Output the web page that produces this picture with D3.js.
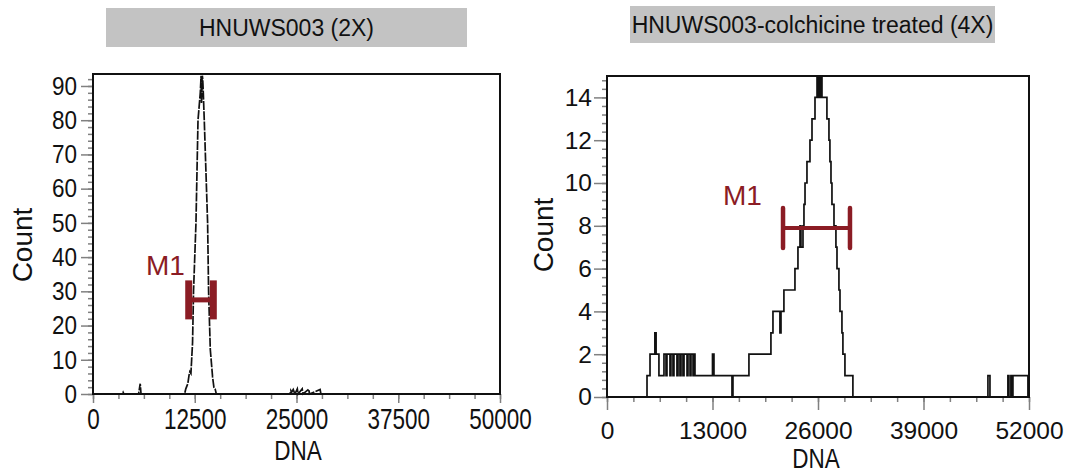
<!DOCTYPE html>
<html>
<head>
<meta charset="utf-8">
<script src="https://cdn.jsdelivr.net/npm/d3@7"></script>
<style>
  body { margin: 0; background: #fff; }
  svg { display: block; font-family: "Liberation Sans", Arial, sans-serif; }
</style>
</head>
<body>
<div id="drawing"></div>
<script>
const width = 1070;
const height = 473;

// ---- left panel: HNUWS003 (2X) ----
const leftTitle = "HNUWS003 (2X)";
const leftXTicks = [0, 12500, 25000, 37500, 50000];
const leftYTicks = [0, 10, 20, 30, 40, 50, 60, 70, 80, 90];
const leftDNA = [0, 3600, 3700, 3800, 5600, 5700, 5800, 5900,
  11250, 11400, 11650, 11800, 11900, 12030, 12230, 12350, 12650, 12900, 13180, 13280, 13330,
  13430, 13480, 13550, 13670, 14080, 14200, 14410, 14690, 14850, 15000, 15150,
  24200, 24300, 24400, 24600, 24800, 25100, 25200, 25700, 25800, 26500, 26600, 27900, 28000, 50000];
const leftCount = [0, 0, 0.5, 0, 0, 1.5, 3, 0,
  0, 1.5, 3, 5.5, 6.5, 6, 15, 30, 50, 80, 88, 93, 85,
  93, 92, 88, 80, 50, 30, 13, 5, 2, 1.5, 0,
  0, 1, 0.5, 1.3, 0, 1.5, 0, 1.5, 0, 1.4, 0, 1.3, 0, 0];
const leftGate = [11760, 14780];
const leftGateLevel = 27.5;

// ---- right panel: colchicine treated (4X) ----
const rightTitle = "HNUWS003-colchicine treated (4X)";
const rightXTicks = [0, 13000, 26000, 39000, 52000];
const rightYTicks = [0, 2, 4, 6, 8, 10, 12, 14];
const rightDNA = [0,
  4930, 5300, 5900, 6050, 6400,
  7020, 7270, 7390, 7760, 7880, 8130, 8250, 8620, 8750, 8990, 9120, 9360, 9490, 9860,
  9980, 10230, 10350, 10600, 10720, 10840,
  13000, 13180, 15400, 15520, 17490,
  20200, 20450, 21310, 21440, 21800, 23160, 23530, 23780, 23900, 24150, 24270, 24400,
  24640, 25010, 25260, 25630, 25880, 26000, 26120, 26250, 26370, 26490,
  27100, 27350, 27470, 27600, 27720, 27970, 28210, 28340, 28580, 28710, 28950, 29070, 29320, 30300,
  46940, 47190, 49400, 49530, 49770, 49900, 50020, 51870, 52000];
const rightCount = [0,
  1, 2, 3, 2, 1,
  2, 1, 2, 1, 2, 1, 2, 1, 2, 1, 2, 1, 2, 1,
  2, 1, 2, 1, 2, 1,
  2, 1, 0, 1, 2,
  3, 4, 3, 4, 5, 6, 7, 8, 7, 8, 9, 10,
  11, 12, 13, 14, 15, 14, 15, 14, 15, 14,
  13, 12, 11, 10, 9, 8, 7, 6, 5, 4, 3, 2, 1, 0,
  1, 0, 1, 0, 1, 0, 1, 0, 0];
const rightGate = [21690, 29940];
const rightGateLevel = 7.9;

const gateColor = "#8b1c24";
const tickColor = "#808080";

const svg = d3.select("#drawing").append("svg")
  .attr("width", width)
  .attr("height", height);

function stretchText(sel, size, sy, yOffset) {
  sel.attr("font-size", size).attr("fill", "#111");
  if (sy !== 1) {
    sel.attr("transform", `scale(1,${sy})`);
    if (yOffset !== undefined) sel.attr("y", yOffset / sy);
  }
}

function label(txt, cx, base, size, sy, rotate) {
  svg.append("text")
    .attr("transform", `translate(${cx},${base}) rotate(${rotate || 0}) scale(1,${sy})`)
    .attr("text-anchor", "middle")
    .attr("font-size", size)
    .attr("fill", "#111")
    .text(txt);
}

function panel(cfg) {
  const b = cfg.box;
  const x = d3.scaleLinear().domain(cfg.xDomain).range([b.x0, b.x1]);
  const y = d3.scaleLinear().domain(cfg.yDomain).range([b.y1, b.y0]);

  // title box
  svg.append("rect")
    .attr("x", cfg.titleBox[0]).attr("y", cfg.titleBox[1])
    .attr("width", cfg.titleBox[2]).attr("height", cfg.titleBox[3])
    .attr("fill", "#c3c3c3");
  svg.append("text")
    .attr("x", cfg.titleBox[0] + cfg.titleBox[2] / 2)
    .attr("y", cfg.titleBox[1] + cfg.titleBox[3] / 2 + 8)
    .attr("text-anchor", "middle")
    .attr("font-size", 23)
    .attr("fill", "#111")
    .text(cfg.title);

  // minor ticks
  const xMinor = d3.range(cfg.xDomain[0], cfg.xDomain[1] + 1, cfg.xStep / 4);
  const yMinor = d3.range(0, cfg.yDomain[1], cfg.yStep / 5);
  const gxm = svg.append("g").attr("transform", `translate(0,${b.y1})`)
    .call(d3.axisBottom(x).tickValues(xMinor).tickSize(5).tickFormat(""));
  const gym = svg.append("g").attr("transform", `translate(${b.x0},0)`)
    .call(d3.axisLeft(y).tickValues(yMinor).tickSize(5).tickFormat(""));

  // major ticks + labels
  const gx = svg.append("g").attr("transform", `translate(0,${b.y1})`)
    .call(d3.axisBottom(x).tickValues(cfg.xTicks).tickFormat(d3.format("d"))
      .tickSize(cfg.xTickLen).tickPadding(cfg.xPad - cfg.xTickLen));
  const gy = svg.append("g").attr("transform", `translate(${b.x0},0)`)
    .call(d3.axisLeft(y).tickValues(cfg.yTicks).tickFormat(d3.format("d"))
      .tickSize(cfg.yTickLen).tickPadding(cfg.yPad - cfg.yTickLen));

  [gxm, gym, gx, gy].forEach(g => {
    g.selectAll(".domain").remove();
    g.selectAll("line").attr("stroke", tickColor).attr("stroke-width", 1.5);
  });
  stretchText(gx.selectAll("text"), cfg.tickFont, cfg.xSy, cfg.xPad);
  stretchText(gy.selectAll("text"), cfg.tickFont, cfg.ySy);

  // frame
  svg.append("rect")
    .attr("x", b.x0).attr("y", b.y0)
    .attr("width", b.x1 - b.x0).attr("height", b.y1 - b.y0)
    .attr("fill", "none").attr("stroke", "#111").attr("stroke-width", 2);

  // histogram
  const pts = cfg.dna.map((d, i) => [d, cfg.count[i]]);
  const line = d3.line()
    .x(d => x(d[0]))
    .y(d => y(d[1]))
    .curve(cfg.curve);
  svg.append("path")
    .datum(pts)
    .attr("d", line)
    .attr("fill", "none")
    .attr("stroke", "#111")
    .attr("stroke-width", 1.7)
    .attr("stroke-dasharray", cfg.dash);

  // M1 gate
  const gy0 = y(cfg.gateLevel);
  const gate = svg.append("g").attr("stroke", gateColor);
  gate.append("line")
    .attr("x1", x(cfg.gate[0])).attr("x2", x(cfg.gate[1]))
    .attr("y1", gy0).attr("y2", gy0)
    .attr("stroke-width", cfg.gateBar);
  gate.selectAll(".end")
    .data(cfg.gate)
    .enter()
    .append("line")
      .attr("class", "end")
      .attr("x1", d => x(d)).attr("x2", d => x(d))
      .attr("y1", gy0 - cfg.gateHalf).attr("y2", gy0 + cfg.gateHalf)
      .attr("stroke-width", cfg.gateEnd)
      .attr("stroke-linecap", cfg.cap);
  svg.append("text")
    .attr("x", cfg.m1[0]).attr("y", cfg.m1[1])
    .attr("font-size", 28)
    .attr("fill", gateColor)
    .text("M1");

  label("Count", cfg.countPos[0], cfg.countPos[1], 28, 1, -90);
  label("DNA", cfg.dnaPos[0], cfg.dnaPos[1], 22.5, 1.25, 0);
}

panel({
  title: leftTitle,
  titleBox: [106, 8, 361, 39],
  box: {x0: 93, x1: 500, y0: 74, y1: 394},
  xDomain: [0, 50000], yDomain: [0, 93.5],
  xTicks: leftXTicks, yTicks: leftYTicks, xStep: 12500, yStep: 10,
  xTickLen: 9, yTickLen: 12, xPad: 14, yPad: 16,
  tickFont: 22.5, xSy: 1.32, ySy: 1.15,
  dna: leftDNA, count: leftCount, curve: d3.curveLinear, dash: "9,1.3",
  gate: leftGate, gateLevel: leftGateLevel, gateHalf: 19.5, gateBar: 5, gateEnd: 7, cap: "butt",
  m1: [146, 275],
  countPos: [32, 245], dnaPos: [298, 460]
});

panel({
  title: rightTitle,
  titleBox: [630, 6, 365, 37],
  box: {x0: 607, x1: 1029, y0: 76, y1: 397},
  xDomain: [0, 52000], yDomain: [0, 15],
  xTicks: rightXTicks, yTicks: rightYTicks, xStep: 13000, yStep: 2,
  xTickLen: 13, yTickLen: 13, xPad: 25, yPad: 15,
  tickFont: 24.5, xSy: 1, ySy: 1,
  dna: rightDNA, count: rightCount, curve: d3.curveStepAfter, dash: null,
  gate: rightGate, gateLevel: rightGateLevel, gateHalf: 20, gateBar: 4, gateEnd: 4.5, cap: "round",
  m1: [723, 205],
  countPos: [553, 235], dnaPos: [816, 468]
});
</script>
</body>
</html>
